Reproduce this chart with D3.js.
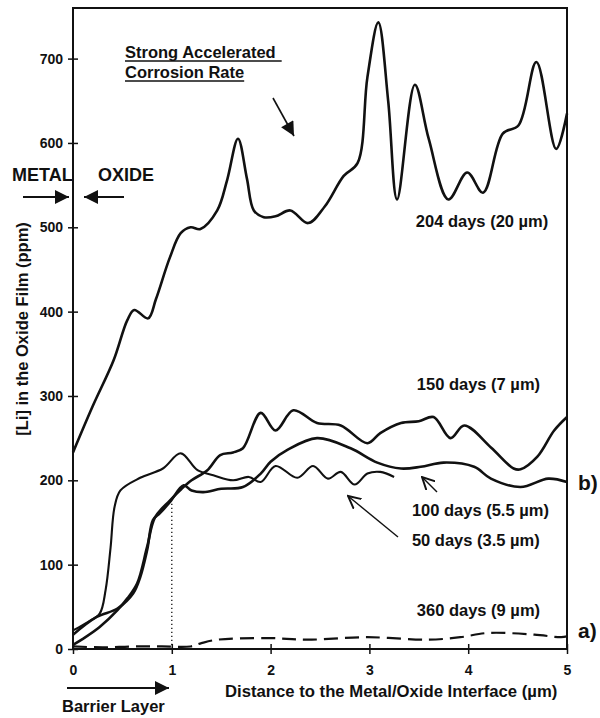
<!DOCTYPE html>
<html>
<head>
<meta charset="utf-8">
<script src="https://cdn.jsdelivr.net/npm/d3@7"></script>
<style>
  body { margin: 0; background: #fff; }
  text { font-family: "Liberation Sans", Arial, sans-serif; font-weight: bold; fill: #111; }
</style>
</head>
<body>
<div id="viz"></div>
<script>
// values: depth (µm) and Li content (ppm)
var depth204 = [0, 0.2, 0.41, 0.55, 0.62, 0.76, 0.84, 0.98, 1.09, 1.19, 1.29, 1.46, 1.56, 1.67, 1.76, 1.83, 1.93, 2.05, 2.2, 2.38, 2.55, 2.74, 2.88, 2.98, 3.09, 3.19, 3.28, 3.46, 3.6, 3.8, 3.99, 4.15, 4.35, 4.51, 4.69, 4.89, 5.0];
var li204    = [233, 288, 342, 390, 402, 392, 415, 464, 493, 500, 498, 520, 556, 605, 558, 520, 512, 513, 520, 505, 525, 561, 576, 678, 743, 650, 533, 669, 605, 533, 565, 541, 611, 621, 696, 593, 635];

var depth150 = [0, 0.1, 0.27, 0.45, 0.55, 0.65, 0.75, 0.83, 0.98, 1.1, 1.2, 1.36, 1.49, 1.62, 1.72, 1.9, 2.05, 2.23, 2.47, 2.71, 2.98, 3.11, 3.32, 3.5, 3.65, 3.82, 3.96, 4.23, 4.46, 4.53, 4.7, 4.87, 5.0];
var li150    = [5, 12, 26, 46, 60, 78, 121, 156, 176, 190, 200, 212, 230, 233, 238, 280, 259, 283, 268, 265, 244, 256, 268, 270, 275, 250, 265, 239, 214, 213, 228, 259, 275];

var depth100 = [0, 0.24, 0.45, 0.61, 0.68, 0.75, 0.81, 0.88, 0.98, 1.12, 1.2, 1.32, 1.5, 1.72, 1.9, 2.0, 2.17, 2.47, 2.81, 3.08, 3.32, 3.52, 3.75, 4.06, 4.23, 4.53, 4.81, 5.0];
var li100    = [17, 38, 48, 66, 85, 117, 153, 161, 174, 194, 188, 186, 190, 192, 208, 222, 236, 250, 238, 221, 214, 216, 221, 216, 202, 192, 202, 198];

var depth50 = [0, 0.15, 0.27, 0.33, 0.38, 0.42, 0.48, 0.68, 0.91, 1.09, 1.26, 1.42, 1.62, 1.78, 1.9, 2.05, 2.27, 2.43, 2.58, 2.71, 2.85, 2.98, 3.11, 3.25];
var li50    = [22, 32, 42, 70, 120, 168, 188, 203, 214, 232, 212, 206, 200, 204, 198, 217, 203, 217, 202, 210, 195, 208, 210, 204];

var depth360 = [0, 0.3, 0.6, 0.9, 1.19, 1.3, 1.46, 1.97, 2.37, 2.98, 3.59, 3.92, 4.2, 4.67, 4.94, 5.0];
var li360    = [3, 2, 3, 3, 3, 7, 11, 13, 11, 14, 11, 14, 19, 17, 14, 15];

var xTicks = [0, 1, 2, 3, 4, 5];
var yTicks = [0, 100, 200, 300, 400, 500, 600, 700];

var W = 600, H = 718;
var plotL = 73, plotR = 567, plotT = 8, plotB = 649;

var svg = d3.select("#viz").append("svg")
    .attr("width", W)
    .attr("height", H);

var x = d3.scaleLinear().domain([0, 5]).range([plotL, plotR]);
var y = d3.scaleLinear().domain([0, 760]).range([plotB, plotT]);

// arrow heads
var defs = svg.append("defs");
defs.append("marker")
    .attr("id", "solid")
    .attr("viewBox", "0 0 10 10")
    .attr("refX", 10).attr("refY", 5)
    .attr("markerWidth", 16).attr("markerHeight", 14)
    .attr("markerUnits", "userSpaceOnUse")
    .attr("orient", "auto")
  .append("path")
    .attr("d", "M0,0 L10,5 L0,10 Z")
    .attr("fill", "#111");
defs.append("marker")
    .attr("id", "open")
    .attr("viewBox", "0 0 10 10")
    .attr("refX", 9).attr("refY", 5)
    .attr("markerWidth", 14).attr("markerHeight", 14)
    .attr("markerUnits", "userSpaceOnUse")
    .attr("orient", "auto")
  .append("path")
    .attr("d", "M0,0.5 L9,5 L0,9.5")
    .attr("fill", "none")
    .attr("stroke", "#111")
    .attr("stroke-width", 1.4);

// frame
svg.append("rect")
    .attr("x", plotL).attr("y", plotT)
    .attr("width", plotR - plotL).attr("height", plotB - plotT)
    .attr("fill", "none")
    .attr("stroke", "#111")
    .attr("stroke-width", 2);

// axes
var gy = svg.append("g")
    .attr("transform", "translate(" + plotL + ",0)")
    .call(d3.axisLeft(y).tickValues(yTicks).tickSize(5).tickPadding(5));
gy.select(".domain").remove();
gy.selectAll(".tick line").attr("x1", 5).attr("stroke", "#111").attr("stroke-width", 1.5);
gy.selectAll(".tick text").style("font-size", "14px").attr("fill", "#111");

var gx = svg.append("g")
    .attr("transform", "translate(0," + plotB + ")")
    .call(d3.axisBottom(x).tickValues(xTicks).tickFormat(d3.format("d")).tickSize(5).tickPadding(11));
gx.select(".domain").remove();
gx.selectAll(".tick line").attr("y1", -5).attr("stroke", "#111").attr("stroke-width", 1.5);
gx.selectAll(".tick text").style("font-size", "14px").attr("fill", "#111");

svg.append("text")
    .attr("transform", "translate(28,329) rotate(-90)")
    .attr("text-anchor", "middle")
    .style("font-size", "16.5px")
    .text("[Li] in the Oxide Film (ppm)");

svg.append("text")
    .attr("x", 225).attr("y", 697)
    .style("font-size", "16.7px")
    .text("Distance to the Metal/Oxide Interface (µm)");

// barrier layer boundary
svg.append("line")
    .attr("x1", x(1)).attr("x2", x(1))
    .attr("y1", y(0)).attr("y2", y(175))
    .attr("stroke", "#111")
    .attr("stroke-width", 1.3)
    .attr("stroke-dasharray", "1.3,2.7");

// curves
var line = d3.line()
    .x(function(d) { return x(d[0]); })
    .y(function(d) { return y(d[1]); })
    .curve(d3.curveCatmullRom.alpha(0.5));

function pairs(a, b) { return a.map(function(v, i) { return [v, b[i]]; }); }

var series = [
  {xs: depth204, ys: li204, w: 2.6, dash: null},
  {xs: depth150, ys: li150, w: 2.6, dash: null},
  {xs: depth100, ys: li100, w: 2.6, dash: null},
  {xs: depth50,  ys: li50,  w: 2.1, dash: null},
  {xs: depth360, ys: li360, w: 2.2, dash: "14,7"}
];

svg.append("g").selectAll("path")
  .data(series)
  .enter().append("path")
    .attr("d", function(s) { return line(pairs(s.xs, s.ys)); })
    .attr("fill", "none")
    .attr("stroke", "#111")
    .attr("stroke-width", function(s) { return s.w; })
    .attr("stroke-linejoin", "round")
    .attr("stroke-dasharray", function(s) { return s.dash; });

// series labels
var labels = [
  {t: "204 days (20 µm)", px: 3.47, py: 500},
  {t: "150 days (7 µm)",  px: 3.48, py: 307},
  {t: "100 days (5.5 µm)", px: 3.43, py: 158},
  {t: "50 days (3.5 µm)", px: 3.43, py: 122},
  {t: "360 days (9 µm)",  px: 3.48, py: 39}
];
svg.append("g").selectAll("text")
  .data(labels)
  .enter().append("text")
    .attr("x", function(d) { return x(d.px); })
    .attr("y", function(d) { return y(d.py); })
    .style("font-size", "16.5px")
    .text(function(d) { return d.t; });

svg.append("text").attr("x", 578).attr("y", 490).style("font-size", "21px").text("b)");
svg.append("text").attr("x", 578).attr("y", 638).style("font-size", "21px").text("a)");

// annotations
var t1 = svg.append("text").attr("x", 125).attr("y", 58).style("font-size", "16.5px").text("Strong Accelerated");
var t2 = svg.append("text").attr("x", 125).attr("y", 78).style("font-size", "16.5px").text("Corrosion Rate");
svg.append("line").attr("x1", 125).attr("x2", 125 + t1.node().getComputedTextLength() + 6)
    .attr("y1", 61).attr("y2", 61).attr("stroke", "#111").attr("stroke-width", 1.3);
svg.append("line").attr("x1", 125).attr("x2", 125 + t2.node().getComputedTextLength())
    .attr("y1", 81).attr("y2", 81).attr("stroke", "#111").attr("stroke-width", 1.3);

svg.append("text").attr("x", 12).attr("y", 181).style("font-size", "18px").text("METAL");
svg.append("text").attr("x", 98).attr("y", 181).style("font-size", "18px").text("OXIDE");
svg.append("text").attr("x", 62).attr("y", 712).style("font-size", "16.5px").text("Barrier Layer");

var arrows = [
  {x1: 273, y1: 98, x2: 294, y2: 136, m: "solid", w: 1.6},
  {x1: 23, y1: 197, x2: 69, y2: 197, m: "solid", w: 2},
  {x1: 124, y1: 197, x2: 84, y2: 197, m: "solid", w: 2},
  {x1: 67, y1: 688, x2: 169, y2: 688, m: "solid", w: 2},
  {x1: 437, y1: 492, x2: 422, y2: 477, m: "open", w: 1.4},
  {x1: 398, y1: 537, x2: 348, y2: 496, m: "open", w: 1.4}
];
svg.append("g").selectAll("line")
  .data(arrows)
  .enter().append("line")
    .attr("x1", function(d) { return d.x1; })
    .attr("y1", function(d) { return d.y1; })
    .attr("x2", function(d) { return d.x2; })
    .attr("y2", function(d) { return d.y2; })
    .attr("stroke", "#111")
    .attr("stroke-width", function(d) { return d.w; })
    .attr("marker-end", function(d) { return "url(#" + d.m + ")"; });
</script>
</body>
</html>
